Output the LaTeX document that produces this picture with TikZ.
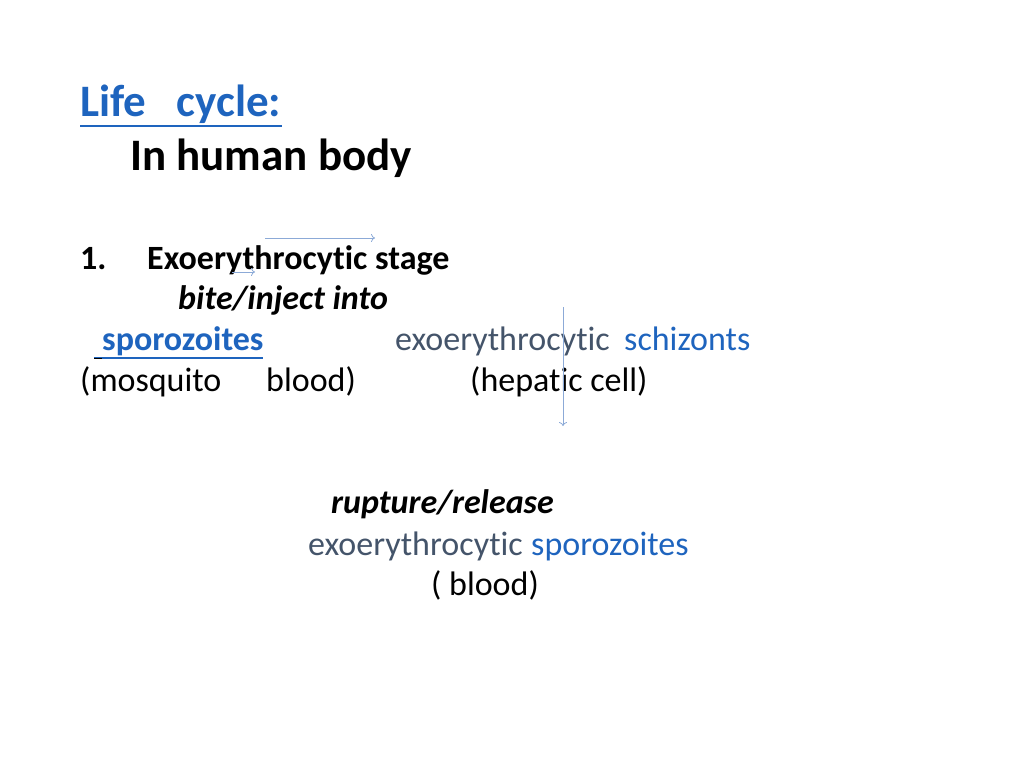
\documentclass[tikz,border=0pt]{standalone}
\usetikzlibrary{arrows.meta}
\usepackage{fontspec}
\setmainfont[Ligatures={NoCommon}]{Carlito}
\definecolor{bl}{RGB}{30,100,190}
\definecolor{gr}{RGB}{68,84,106}
\definecolor{ar}{RGB}{140,170,215}
\begin{document}
\begin{tikzpicture}[x=1pt,y=-1pt,
  t/.style={anchor=base west,inner sep=0pt,font=\fontsize{34}{34}\selectfont},
  tb/.style={t,font=\fontsize{34}{34}\selectfont\bfseries},
  h/.style={anchor=base west,inner sep=0pt,font=\fontsize{45}{45}\selectfont\bfseries},
  arr/.style={draw=ar,line width=0.8pt,-{To[length=4pt,width=8pt]}}]
\useasboundingbox (0,0) rectangle (1024,768);
\node[h,text=bl] (lc) at (80,116) {Life\ \ \ cycle:};
\draw[bl,line width=1.5pt] (80,126) -- (282,126);
\node[h] (hb) at (130,170) {In human body};
\node[tb] (n1) at (80,269) {1.};
\node[tb] (es) at (147,269) {Exoerythrocytic stage};
\node[tb,font=\fontsize{34}{34}\selectfont\bfseries\itshape] (bi) at (178,309) {bite/inject into};
\node[tb,text=bl] (sp) at (102,350) {sporozoites};
\draw[bl,line width=1.5pt] (94,358) -- (263,358);
\draw[black,line width=1pt] (94,358) -- (102,358);
\node[t,text=gr] (ex) at (395,350) {exoerythrocytic};
\node[t,text=bl] (sc) at (624,350) {schizonts};
\node[t] (mo) at (80,391) {(mosquito};
\node[t] (bl1) at (266,391) {blood)};
\node[t] (hc) at (470,391) {(hepatic cell)};
\node[tb,font=\fontsize{34}{34}\selectfont\bfseries\itshape] (rr) at (331,513) {rupture/release};
\node[t,text=gr] (ex2) at (308,555) {exoerythrocytic};
\node[t,text=bl] (sp2) at (531,555) {sporozoites};
\node[t] (b2) at (431,595) {( blood)};
\coordinate (a1) at (265,238); \coordinate (a2) at (375,238);
\coordinate (b1) at (232,272); \coordinate (b2c) at (255,272);
\coordinate (c1) at (563,307); \coordinate (c2) at (563,426);
\draw[arr] (a1) -- (a2);
\draw[arr] (b1) -- (b2c);
\draw[arr] (c1) -- (c2);
\end{tikzpicture}
\end{document}
